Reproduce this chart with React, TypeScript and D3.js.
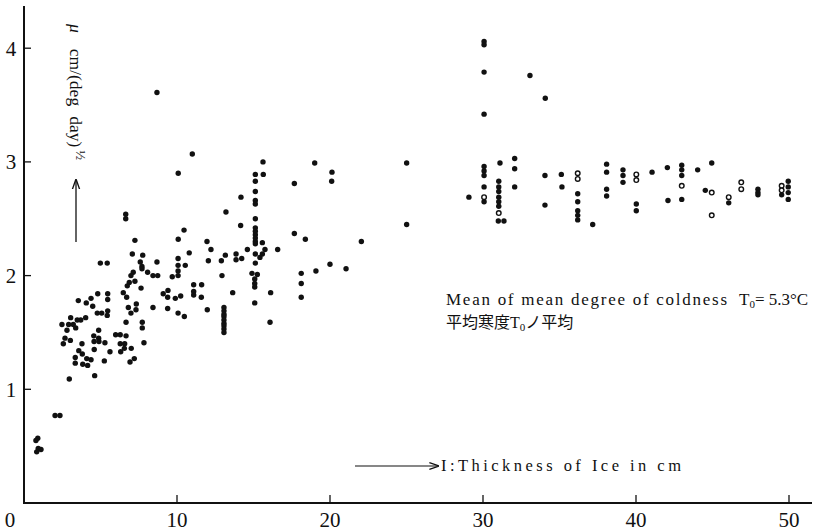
import React from "react";
import * as d3 from "d3";

const W = 834;
const H = 532;

const xTicks = [10, 20, 30, 40, 50];
const yTicks = [1, 2, 3, 4];

// Thin ice (< 3 cm)
const thinIce: [number, number][] = [
  [0.9, 0.57], [0.78, 0.55], [0.93, 0.48], [1.11, 0.47], [0.83, 0.45],
  [2.03, 0.77], [2.35, 0.77],
];

// Ice 2.5 - 8.7 cm
const thinMid: [number, number][] = [
  [7.08, 2.19], [7.76, 2.18], [4.99, 2.11], [5.44, 2.11], [7.6, 2.12], [7.71, 2.08], [7.71, 2.06],
  [7.14, 2.03], [6.99, 2.0], [7.25, 1.95], [6.88, 1.94], [6.75, 1.91], [8.08, 2.03], [7.65, 1.89],
  [6.49, 1.85], [6.71, 1.81], [4.82, 1.84], [5.47, 1.84], [5.47, 1.79], [4.38, 1.8], [4.07, 1.76],
  [3.55, 1.78], [4.49, 1.73], [5.47, 1.69], [4.79, 1.67], [5.08, 1.67], [5.44, 1.65], [7.34, 1.75],
  [7.32, 1.7], [6.99, 1.67], [6.82, 1.72], [4.03, 1.63], [3.05, 1.63], [3.71, 1.61], [3.48, 1.61],
  [2.48, 1.57], [2.92, 1.57], [3.22, 1.57], [2.81, 1.52], [3.38, 1.54], [6.67, 1.59], [7.73, 1.59],
  [7.73, 1.54], [4.88, 1.52], [4.56, 1.47], [4.88, 1.45], [4.9, 1.42], [4.58, 1.42], [5.29, 1.41],
  [5.99, 1.48], [6.29, 1.48], [6.67, 1.47], [6.29, 1.4], [6.58, 1.4], [6.56, 1.36], [6.32, 1.33],
  [7.01, 1.36], [7.84, 1.41], [2.68, 1.45], [3.03, 1.43], [2.57, 1.4], [3.79, 1.4], [3.58, 1.34],
  [3.81, 1.31], [4.59, 1.35], [5.62, 1.33], [3.35, 1.28], [3.35, 1.23], [4.1, 1.27], [4.38, 1.26],
  [3.84, 1.22], [4.16, 1.21], [5.25, 1.25], [6.93, 1.24], [7.21, 1.27], [4.62, 1.12], [2.96, 1.09],
  [6.65, 2.54], [6.65, 2.5], [7.25, 2.31], [8.69, 3.61],
];

// Ice 8.4 - 25 cm
const midIce: [number, number][] = [
  [11.0, 3.07], [10.08, 2.9], [15.62, 3.0], [15.64, 2.89], [15.12, 2.89], [15.12, 2.83], [19.0, 2.99],
  [17.67, 2.81], [14.18, 2.69], [15.12, 2.74], [15.12, 2.66], [15.12, 2.63], [13.2, 2.56], [15.12, 2.5],
  [14.16, 2.44], [15.12, 2.42], [15.12, 2.39], [15.12, 2.36], [15.12, 2.33], [15.12, 2.3], [15.12, 2.28],
  [15.58, 2.29], [17.67, 2.37], [18.39, 2.32], [10.46, 2.4], [10.08, 2.32], [11.96, 2.3], [12.22, 2.23],
  [10.8, 2.2], [14.6, 2.23], [15.75, 2.23], [16.58, 2.23], [13.86, 2.19], [14.23, 2.15], [13.86, 2.14],
  [13.16, 2.18], [12.9, 2.13], [12.05, 2.13], [15.12, 2.19], [15.12, 2.11], [15.58, 2.19], [15.42, 2.16],
  [8.69, 2.12], [10.07, 2.15], [10.07, 2.09], [10.54, 2.09], [10.07, 2.04], [10.07, 2.0], [8.43, 2.0],
  [8.74, 2.0], [9.69, 1.99], [12.94, 2.0], [14.9, 2.02], [15.25, 2.01], [15.08, 1.97], [15.08, 1.93],
  [15.08, 1.9], [18.12, 2.02], [19.08, 2.04], [20.0, 2.1], [18.12, 1.93], [18.12, 1.81], [11.09, 1.92],
  [11.61, 1.92], [11.09, 1.86], [11.09, 1.83], [11.59, 1.81], [13.64, 1.85], [16.12, 1.85], [15.08, 1.76],
  [9.1, 1.84], [9.41, 1.87], [9.39, 1.81], [9.89, 1.8], [10.24, 1.82], [8.43, 1.72], [9.39, 1.71],
  [10.07, 1.67], [10.48, 1.64], [11.98, 1.7], [13.07, 1.72], [13.07, 1.69], [13.07, 1.66], [13.07, 1.64],
  [13.07, 1.61], [13.07, 1.58], [13.07, 1.56], [13.07, 1.53], [13.07, 1.5], [16.08, 1.59], [20.13, 2.91],
  [20.11, 2.83], [25.01, 2.99], [25.01, 2.45], [22.05, 2.3], [21.05, 2.06],
];

// Thick ice (>= 29 cm), filled marks
const thickIce: [number, number][] = [
  [29.08, 2.69],
  [30.07, 4.06], [30.07, 4.03], [30.07, 3.79], [30.07, 3.42], [30.07, 2.96], [30.07, 2.92],
  [30.07, 2.88], [30.07, 2.78], [30.07, 2.65],
  [31.11, 2.99], [31.03, 2.83], [31.03, 2.78], [31.03, 2.74], [31.03, 2.69], [31.03, 2.65], [31.03, 2.61],
  [31.0, 2.48], [31.37, 2.48],
  [32.07, 3.03], [32.07, 2.94], [32.07, 2.78],
  [33.07, 3.76], [34.07, 3.56], [34.05, 2.88], [34.05, 2.62], [35.12, 2.89], [35.16, 2.78],
  [36.19, 2.72], [36.19, 2.65], [36.19, 2.57], [36.19, 2.53], [36.19, 2.49], [37.17, 2.45],
  [38.08, 2.98], [38.08, 2.91], [38.08, 2.76], [38.08, 2.7],
  [39.15, 2.93], [39.15, 2.88], [39.15, 2.82],
  [40.02, 2.63], [40.02, 2.57],
  [41.05, 2.91], [42.05, 2.95], [42.09, 2.66],
  [42.99, 2.97], [42.99, 2.93], [42.99, 2.88], [42.99, 2.67],
  [44.03, 2.93], [44.53, 2.75], [44.95, 2.99],
  [46.06, 2.64],
  [47.97, 2.76], [47.97, 2.73], [47.97, 2.71],
  [49.52, 2.71],
  [49.95, 2.83], [49.95, 2.78], [49.95, 2.73], [49.95, 2.67],
];

// Open (hollow) marks
const openMarks: [number, number][] = [
  [30.07, 2.69], [31.03, 2.55], [36.19, 2.9], [36.19, 2.85], [40.02, 2.89], [40.02, 2.84],
  [42.99, 2.79], [44.95, 2.73], [44.95, 2.53], [46.06, 2.69], [46.88, 2.82], [46.88, 2.76],
  [49.52, 2.79], [49.52, 2.75],
];

const serif = "Liberation Serif, DejaVu Serif, serif";
const cjk = "Noto Sans CJK JP, Noto Sans CJK SC, sans-serif";

export default function App() {
  const x = d3.scaleLinear().domain([0, 50]).range([24, 789]);
  const y = d3.scaleLinear().domain([0, 4]).range([503, 48.2]);
  const filled = [...thinIce, ...thinMid, ...midIce, ...thickIce];
  const txt = { fontFamily: serif } as React.CSSProperties;

  return (
    <svg
      width={W}
      height={H}
      style={{ position: "absolute", left: 0, top: 0, background: "#fff", fontFamily: serif }}
    >
      <defs>
        <marker id="ah" viewBox="0 0 10 10" refX="9" refY="5" markerWidth="8" markerHeight="8" orient="auto">
          <path d="M0,1.5 L10,5 L0,8.5" fill="none" stroke="#111" strokeWidth="1.3" />
        </marker>
      </defs>
      <rect width={W} height={H} fill="#fff" />
      {/* axes */}
      <line x1={x(0)} x2={x(0)} y1={y(0) + 1} y2={6} stroke="#111" strokeWidth={2} />
      <line x1={x(0) - 1} x2={812} y1={y(0)} y2={y(0)} stroke="#111" strokeWidth={2} />
      {yTicks.map((t) => (
        <g key={"yt" + t}>
          <line x1={x(0)} x2={x(0) + 7} y1={y(t)} y2={y(t)} stroke="#111" strokeWidth={1.3} />
          <text x={11} y={y(t)} dy="0.35em" textAnchor="middle" fontSize={21} fill="#111" style={txt}>
            {t}
          </text>
        </g>
      ))}
      {xTicks.map((t) => (
        <g key={"xt" + t}>
          <line x1={x(t)} x2={x(t)} y1={y(0)} y2={y(0) - 8} stroke="#111" strokeWidth={1.3} />
          <text x={x(t)} y={520} dy="0.35em" textAnchor="middle" fontSize={21} fill="#111" style={txt}>
            {t}
          </text>
        </g>
      ))}
      <text x={10} y={520} dy="0.35em" textAnchor="middle" fontSize={21} fill="#111" style={txt}>
        0
      </text>

      {/* y label (rotated) */}
      <g transform="translate(70,24) rotate(90)">
        <text x={0} y={0} fontSize={17.5} fill="#111" style={txt}>
          <tspan fontStyle="italic">μ</tspan>
          <tspan dx={16}>cm/(deg</tspan>
          <tspan dx={10}>day)</tspan>
          <tspan dx={3} dy={-6} fontSize={13}>½</tspan>
        </text>
      </g>
      <line x1={76} x2={76} y1={242} y2={180} stroke="#111" strokeWidth={1.3} markerEnd="url(#ah)" />

      {/* x label */}
      <line x1={355} x2={438} y1={466} y2={466} stroke="#111" strokeWidth={1.2} markerEnd="url(#ah)" />
      <text x={441} y={471} fontSize={16.5} fill="#111" textLength={240} lengthAdjust="spacing" style={txt}>
        I:Thickness of Ice in cm
      </text>

      {/* annotation */}
      <text x={446} y={305} fontSize={17} fill="#111" textLength={281} lengthAdjust="spacing" style={txt}>
        Mean of mean degree of coldness
      </text>
      <text x={739} y={305} fontSize={17} fill="#111" style={txt}>
        T<tspan dy={3} fontSize={11}>0</tspan>
        <tspan dy={-3}>= 5.3°C</tspan>
      </text>
      <text x={446} y={328} fontSize={16} fill="#111" style={{ fontFamily: cjk }}>
        平均寒度<tspan style={txt}>T</tspan>
        <tspan dy={3} fontSize={11} style={txt}>0</tspan>
        <tspan dy={-3}>ノ平均</tspan>
      </text>

      {/* points */}
      {filled.map((d, i) => (
        <circle key={"f" + i} cx={x(d[0])} cy={y(d[1])} r={2.7} fill="#111" />
      ))}
      {openMarks.map((d, i) => (
        <circle key={"o" + i} cx={x(d[0])} cy={y(d[1])} r={2.3} fill="#fff" stroke="#111" strokeWidth={1.4} />
      ))}
    </svg>
  );
}
